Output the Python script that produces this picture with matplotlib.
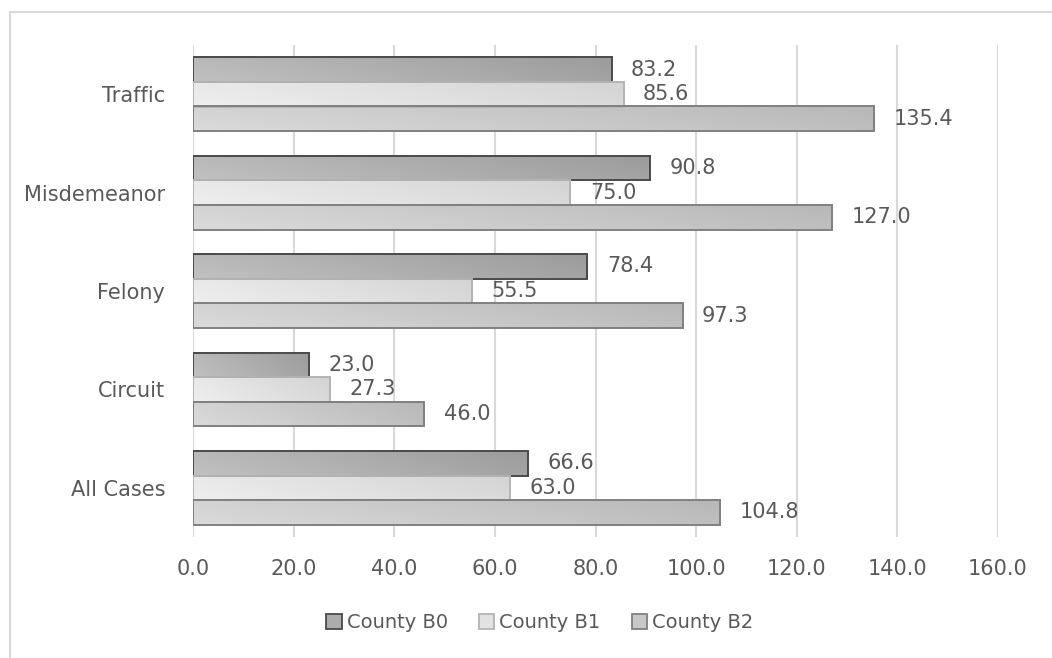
import numpy as np
import matplotlib
matplotlib.use("Agg")
import matplotlib.pyplot as plt
from matplotlib.patches import Patch
from matplotlib.colors import LinearSegmentedColormap
from matplotlib.lines import Line2D

categories = ["All Cases", "Circuit", "Felony", "Misdemeanor", "Traffic"]
series_names = ["County B0", "County B1", "County B2"]
b0 = [66.6, 23.0, 78.4, 90.8, 83.2]
b1 = [63.0, 27.3, 55.5, 75.0, 85.6]
b2 = [104.8, 46.0, 97.3, 127.0, 135.4]
xticks = [0, 20, 40, 60, 80, 100, 120, 140, 160]

series = [b0, b1, b2]
grad = [("#c0c0c0", "#9c9c9c"), ("#eeeeee", "#d4d4d4"), ("#dadada", "#b8b8b8")]
edges = ["#4a4a4a", "#b4b4b4", "#808080"]
solid = ["#acacac", "#e2e2e2", "#c8c8c8"]
offsets = [0.25, 0.0, -0.25]
text_color = "#595959"

plt.rcParams['font.family'] = ['DejaVu Sans']

fig = plt.figure(figsize=(10.52, 6.58), dpi=100)
ax = fig.add_axes([193/1052, 1-537/658, (998-193)/1052, (537-45)/658])

y = np.arange(len(categories))
h = 0.25
for vals, (c0, c1), ec, off in zip(series, grad, edges, offsets):
    cmap = LinearSegmentedColormap.from_list("g", [c0, c1])
    bars = ax.barh(y + off, vals, height=h, facecolor="none", edgecolor=ec,
                   linewidth=1.4, zorder=4)
    for bar, v in zip(bars, vals):
        x0, y0 = bar.get_x(), bar.get_y()
        w, hh = bar.get_width(), bar.get_height()
        g = np.linspace(0, 1, 64).reshape(1, -1) + np.linspace(0, 0.25, 8).reshape(-1, 1)
        g = g / g.max()
        im = ax.imshow(g, extent=(x0, x0 + w, y0, y0 + hh), cmap=cmap,
                       aspect='auto', origin='lower', zorder=3, interpolation='bilinear')
        im.set_clip_path(bar)
        ax.annotate(f"{v:.1f}", xy=(x0 + w, y0 + hh/2), xytext=(14, 0),
                    textcoords="offset points", va="center", ha="left",
                    fontsize=15, color=text_color, zorder=5)

ax.set_xlim(0, 160)
ax.set_ylim(-0.5, len(categories) - 0.5)
ax.set_xticks(xticks)
ax.set_xticklabels([f"{t:.1f}" for t in xticks])
ax.set_yticks(y)
ax.set_yticklabels(categories)
ax.tick_params(axis='both', length=0, colors=text_color, labelsize=15)
ax.tick_params(axis='x', pad=16)
ax.tick_params(axis='y', pad=20, labelsize=15)
ax.xaxis.grid(True, color="#d9d9d9", linewidth=1.5, zorder=0)
ax.set_axisbelow(True)
for s in ax.spines.values():
    s.set_visible(False)

handles = [Patch(facecolor=f, edgecolor=e, linewidth=1.3) for f, e in zip(solid, edges)]
fig.legend(handles, series_names, loc="center", bbox_to_anchor=(0.513, 1-623/658),
           ncol=3, frameon=False, fontsize=14, labelcolor=text_color,
           handlelength=0.8, handleheight=0.8, handletextpad=0.25, columnspacing=1.6)

fig.add_artist(Line2D([10/1052, 10/1052], [0, 1-12/658], transform=fig.transFigure,
                      color="#d9d9d9", linewidth=1.5))
fig.add_artist(Line2D([10/1052, 1], [1-12/658, 1-12/658], transform=fig.transFigure,
                      color="#d9d9d9", linewidth=1.5))

fig.savefig("out.png", dpi=100)
